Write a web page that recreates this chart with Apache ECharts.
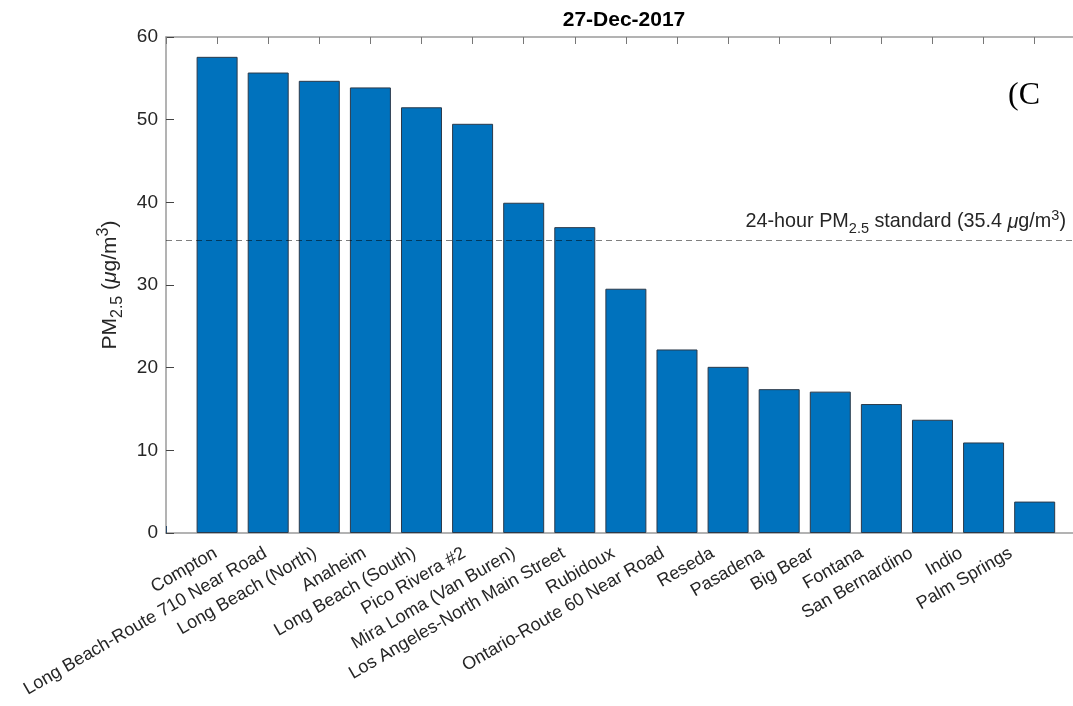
<!DOCTYPE html>
<html><head><meta charset="utf-8">
<script src="https://cdn.jsdelivr.net/npm/echarts@6/dist/echarts.min.js"></script>
<style>html,body{margin:0;padding:0;background:#fff}#c{width:1073px;height:706px}</style>
</head><body><div id="c"></div>
<script>
const categories = ["Compton","Long Beach-Route 710 Near Road","Long Beach (North)","Anaheim","Long Beach (South)","Pico Rivera #2","Mira Loma (Van Buren)","Los Angeles-North Main Street","Rubidoux","Ontario-Route 60 Near Road","Reseda","Pasadena","Big Bear","Fontana","San Bernardino","Indio","Palm Springs"];
const values = [57.6, 55.7, 54.7, 53.9, 51.5, 49.5, 39.95, 37.0, 29.55, 22.2, 20.1, 17.4, 17.1, 15.6, 13.7, 10.95, 3.8];
const standard = 35.4;
const yTicks = [0, 10, 20, 30, 40, 50, 60];
const title = "27-Dec-2017";

const FONT = "Liberation Sans, Arial, Helvetica, sans-serif";
const chart = echarts.init(document.getElementById('c'), null, {renderer:'canvas'});
const data = values.map((v,i)=>[i+1, v]);
const XMAX = 17.75;      // visible part of the x range (plot box is cropped at the right)
const XMAX_LABEL = 18.25; // tick labels sit on a slightly tighter pitch than the bars
const opt = {
  animation:false,
  grid:{left:166, top:37, right:0, bottom:173, containLabel:false},
  xAxis:[{
    type:'value', min:0, max:XMAX, interval:1, position:'bottom',
    axisLine:{show:true, lineStyle:{color:'#9a9a9a', width:1.5}},
    axisTick:{show:true, inside:true, length:7, lineStyle:{color:'#2a4a6a', width:1}},
    splitLine:{show:false},
    axisLabel:{show:false}
  },{
    type:'value', min:0, max:XMAX, interval:1, position:'top',
    axisLine:{show:true, onZero:false, lineStyle:{color:'#9a9a9a', width:1.5}},
    axisTick:{show:true, inside:true, length:7, lineStyle:{color:'#777', width:1}},
    axisLabel:{show:false}, splitLine:{show:false}
  },{
    type:'value', min:0, max:XMAX_LABEL, interval:1, position:'bottom',
    axisLine:{show:false, onZero:false}, axisTick:{show:false}, splitLine:{show:false},
    axisLabel:{rotate:30, margin:19, color:'#262626', fontSize:18, fontFamily:FONT,
      showMinLabel:false, showMaxLabel:false,
      formatter:v=>categories[v-1]||''}
  }],
  yAxis:{
    type:'value', min:yTicks[0], max:yTicks[yTicks.length-1], interval:10,
    axisLine:{show:true, lineStyle:{color:'#9a9a9a', width:1.5}},
    axisTick:{show:true, inside:true, length:8, lineStyle:{color:'#444', width:1}},
    splitLine:{show:false},
    axisLabel:{color:'#262626', fontSize:19, fontFamily:FONT, margin:8}
  },
  series:[{
    type:'bar', data:data, barWidth:41, xAxisIndex:0,
    itemStyle:{color:'#0072BD', borderColor:'#2b3a4a', borderWidth:1},
    markLine:{
      silent:true, symbol:'none', animation:false,
      lineStyle:{type:[6,4], color:'rgba(0,0,0,0.5)', width:1},
      label:{show:false},
      data:[{yAxis:standard}]
    },
    z:2
  }],
  graphic:[
    {type:'text', x:624, y:20, style:{text:title, fontFamily:FONT, fontSize:21, fontWeight:'bold', fill:'#000', align:'center', verticalAlign:'middle'}},
    {type:'text', x:1040, y:96, style:{text:'(C', fontFamily:'Liberation Serif, Times New Roman, serif', fontSize:32, fill:'#000', align:'right', verticalAlign:'middle'}},
    {type:'text', x:1066, y:222, style:{
      text:'{n|24-hour PM}{sub|2.5}{n| standard (35.4 }{i|μ}{n|g/m}{sup|3}{n|)}',
      align:'right', verticalAlign:'middle', fill:'#262626',
      rich:{
        n:{fontFamily:FONT, fontSize:19.8, fill:'#262626'},
        i:{fontFamily:FONT, fontSize:19.8, fontStyle:'italic', fill:'#262626'},
        sub:{fontFamily:FONT, fontSize:14.5, padding:[14,0,0,0], fill:'#262626'},
        sup:{fontFamily:FONT, fontSize:14.5, padding:[0,0,12,0], fill:'#262626'}
      }}},
    {type:'text', x:110, y:285, rotation:Math.PI/2, style:{
      text:'{n|PM}{sub|2.5}{n| (}{i|μ}{n|g/m}{sup|3}{n|)}',
      align:'center', verticalAlign:'middle', fill:'#262626',
      rich:{
        n:{fontFamily:FONT, fontSize:21, fill:'#262626'},
        i:{fontFamily:FONT, fontSize:21, fontStyle:'italic', fill:'#262626'},
        sub:{fontFamily:FONT, fontSize:16, padding:[15,0,0,0], fill:'#262626'},
        sup:{fontFamily:FONT, fontSize:16, padding:[0,0,13,0], fill:'#262626'}
      }}}
  ]
};
chart.setOption(opt);
</script></body></html>
